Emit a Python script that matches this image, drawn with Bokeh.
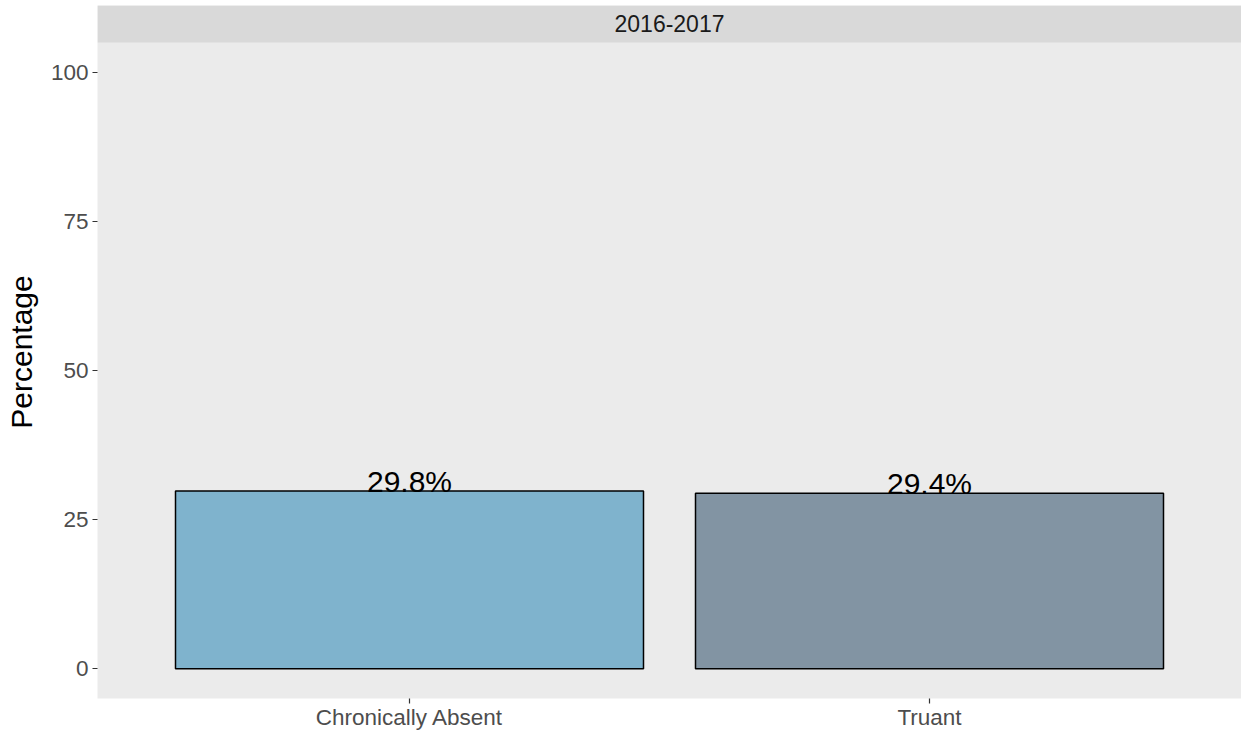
from bokeh.plotting import figure
from bokeh.models import (FactorRange, Range1d, FixedTicker, BoxAnnotation, Label,
                          ColumnDataSource)
from bokeh.core.properties import value
from bokeh.embed import file_html
from bokeh.resources import INLINE

# ---- data ----
categories = ["Chronically Absent", "Truant"]
percentages = [29.8, 29.4]
bar_labels = ["29.8%", "29.4%"]
facet_title = "2016-2017"
y_ticks = [0, 25, 50, 75, 100]
palette = ["#7FB3CD", "#8294A3"]

FONT = "Liberation Sans"

src = ColumnDataSource(dict(cat=categories, pct=percentages, lab=bar_labels, col=palette))

p = figure(
    x_range=FactorRange(*categories, range_padding=0.1, range_padding_units="percent"),
    y_range=Range1d(-5, 111.2),
    width=1241, height=732,
    output_backend="svg", toolbar_location=None,
    min_border_left=97, min_border_right=0, min_border_top=5, min_border_bottom=34,
)
p.background_fill_color = "#EBEBEB"
p.border_fill_color = "white"
p.outline_line_color = None
p.xgrid.visible = False
p.ygrid.visible = False

# facet strip
p.add_layout(BoxAnnotation(bottom=105, fill_color="#D9D9D9", fill_alpha=1.0,
                           line_color=None, level="underlay"))
p.add_layout(Label(x=1.0, y=108.1, text=facet_title, text_align="center",
                   text_baseline="middle", text_font_size="23px",
                   text_color="#1A1A1A", text_font=FONT))

p.vbar(x="cat", top="pct", bottom=0, width=0.9, source=src,
       fill_color="col", line_color="black", line_width=1.5)
p.text(x="cat", y="pct", text="lab", source=src, text_align="center",
       text_baseline="bottom", text_font_size="30px", text_color="black",
       text_font=value(FONT), y_offset=7)

# y axis
p.yaxis.ticker = FixedTicker(ticks=y_ticks)
p.yaxis.axis_label = "Percentage"
p.yaxis.axis_label_text_font = FONT
p.yaxis.axis_label_text_font_size = "30px"
p.yaxis.axis_label_text_font_style = "normal"
p.yaxis.axis_label_text_color = "black"
p.yaxis.axis_label_standoff = 10
p.yaxis.major_label_text_font = FONT
p.yaxis.major_label_text_font_size = "22.5px"
p.yaxis.major_label_text_color = "#4D4D4D"
p.yaxis.major_label_standoff = 4
p.yaxis.axis_line_color = None
p.yaxis.major_tick_out = 5
p.yaxis.major_tick_in = 0
p.yaxis.major_tick_line_color = "#333333"
p.yaxis.major_tick_line_width = 1.2
p.yaxis.minor_tick_line_color = None

# x axis
p.xaxis.major_label_text_font = FONT
p.xaxis.major_label_text_font_size = "22.5px"
p.xaxis.major_label_text_color = "#4D4D4D"
p.xaxis.major_label_standoff = 1
p.xaxis.axis_line_color = None
p.xaxis.major_tick_out = 5
p.xaxis.major_tick_in = 0
p.xaxis.major_tick_line_color = "#333333"
p.xaxis.major_tick_line_width = 1.2

open("out.html", "w").write(file_html(p, INLINE))
